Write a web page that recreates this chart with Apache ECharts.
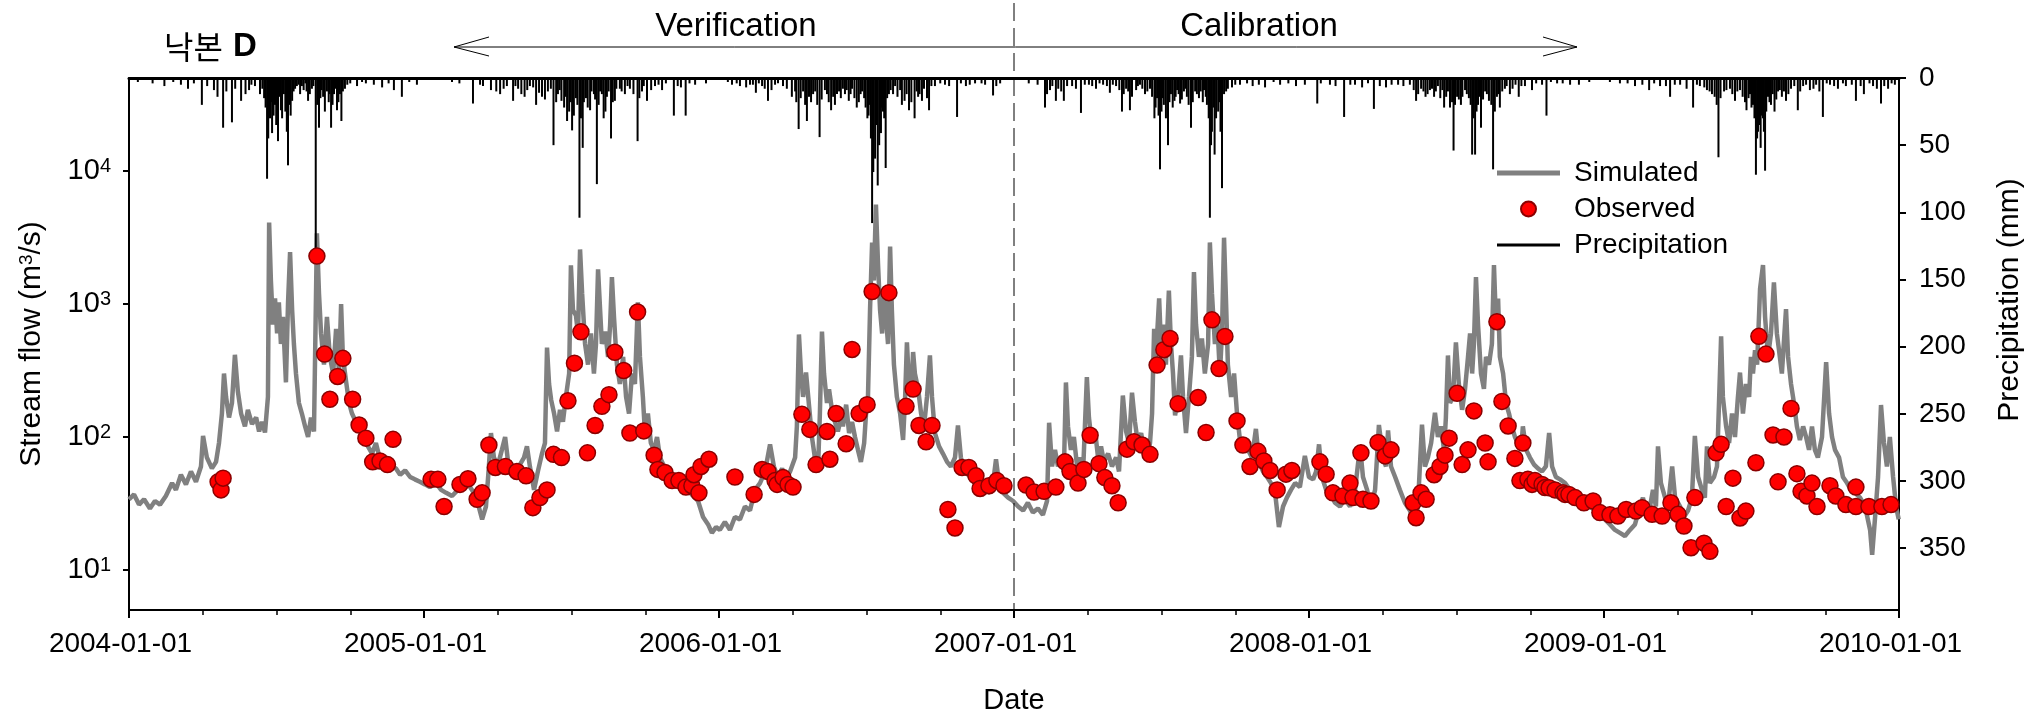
<!DOCTYPE html>
<html><head><meta charset="utf-8">
<script src="https://cdn.jsdelivr.net/npm/echarts@6/dist/echarts.min.js"></script>
<style>html,body{margin:0;padding:0;background:#fff}#c{width:2029px;height:723px}</style>
</head><body><div id="c"></div>
<script>
// ---- tick labels / axis ----
const xYears = [2004, 2005, 2006, 2007, 2008, 2009, 2010];
const flowTicks = [10, 100, 1000, 10000];
const precipTicks = [0, 50, 100, 150, 200, 250, 300, 350];

// ---- Simulated stream flow (m3/s): [fraction of year, value] ----
const sim2004 = [[0,34],[.017,37],[.034,31],[.051,34],[.071,29],[.088,33],[.105,31],[.125,36],[.146,45],[.159,40],[.176,52],[.193,44],[.210,55],[.227,46],[.244,60],[.251,102],[.264,70],[.281,58],[.295,65],[.305,90],[.315,150],[.322,300],[.329,200],[.339,140],[.349,180],[.359,415],[.369,220],[.380,150],[.393,120],[.403,160],[.417,125],[.431,140],[.441,110],[.451,130],[.461,108],[.471,200],[.475,4100],[.481,1500],[.488,700],[.495,1100],[.502,600],[.508,1030],[.515,500],[.522,800],[.532,257],[.539,1000],[.546,2450],[.553,900],[.559,500],[.566,300],[.576,180],[.586,150],[.597,120],[.607,100],[.617,140],[.627,110],[.637,3400],[.644,1200],[.651,600],[.661,350],[.671,800],[.681,400],[.692,300],[.702,650],[.712,300],[.719,1000],[.725,400],[.736,260],[.746,180],[.756,150],[.769,130],[.783,110],[.797,100],[.810,85],[.824,75],[.837,90],[.851,68],[.864,62],[.878,70],[.892,60],[.905,58],[.919,52],[.936,56],[.953,50],[.969,48],[.986,46]];
const sim2005 = [[.003,44],[.020,42],[.041,45],[.058,40],[.075,38],[.095,36],[.115,40],[.136,51],[.156,42],[.176,36],[.197,24],[.210,30],[.220,60],[.227,107],[.237,70],[.251,62],[.264,80],[.275,100],[.285,65],[.298,60],[.312,55],[.325,62],[.339,70],[.349,85],[.359,60],[.373,40],[.386,55],[.400,75],[.410,90],[.417,470],[.424,250],[.431,190],[.441,150],[.451,110],[.461,160],[.471,130],[.481,200],[.492,300],[.498,1950],[.505,900],[.515,820],[.522,600],[.529,2570],[.536,1200],[.546,500],[.556,350],[.566,600],[.576,300],[.583,500],[.590,1820],[.597,900],[.603,500],[.614,620],[.624,400],[.631,700],[.637,1590],[.644,800],[.654,350],[.664,250],[.675,400],[.685,200],[.695,150],[.705,300],[.715,250],[.725,1030],[.732,400],[.742,200],[.749,107],[.759,150],[.769,90],[.780,80],[.790,100],[.800,70],[.814,60],[.827,55],[.841,50],[.858,48],[.875,42],[.895,40],[.912,36],[.929,33],[.946,25],[.963,22],[.976,19],[.990,21]];
const sim2006 = [[.003,20],[.020,23],[.037,20],[.054,25],[.071,24],[.088,30],[.105,28],[.122,40],[.139,45],[.156,55],[.173,88],[.186,60],[.200,50],[.214,58],[.227,48],[.241,55],[.258,70],[.264,120],[.271,590],[.278,300],[.285,200],[.295,305],[.305,174],[.315,100],[.325,70],[.336,60],[.342,150],[.349,620],[.356,300],[.366,180],[.373,228],[.383,160],[.393,130],[.403,110],[.414,140],[.420,120],[.431,175],[.441,107],[.451,130],[.461,100],[.471,80],[.481,65],[.492,90],[.498,145],[.505,200],[.512,900],[.519,2900],[.525,1500],[.532,5600],[.539,2000],[.546,900],[.553,600],[.559,1200],[.566,800],[.573,500],[.580,2700],[.586,900],[.593,350],[.603,200],[.614,150],[.624,95],[.631,200],[.637,515],[.644,250],[.651,200],[.658,435],[.664,300],[.675,230],[.685,150],[.695,120],[.705,200],[.715,410],[.722,200],[.732,107],[.746,85],[.759,75],[.773,65],[.786,60],[.800,70],[.810,122],[.820,70],[.834,55],[.851,50],[.868,45],[.885,42],[.902,40],[.919,38],[.929,45],[.939,68],[.949,45],[.963,38],[.980,35],[.997,33]];
const sim2007 = [[.014,30],[.031,28],[.047,32],[.064,27],[.081,29],[.098,26],[.112,33],[.119,128],[.129,60],[.139,80],[.149,60],[.159,70],[.169,55],[.176,257],[.183,120],[.193,80],[.203,100],[.214,60],[.224,70],[.234,53],[.247,282],[.254,140],[.264,90],[.275,110],[.285,70],[.295,85],[.305,65],[.319,75],[.332,60],[.346,70],[.356,55],[.369,205],[.380,110],[.390,90],[.400,215],[.410,130],[.420,90],[.431,107],[.441,80],[.451,68],[.461,90],[.468,150],[.475,650],[.481,400],[.492,1100],[.498,500],[.508,700],[.515,350],[.525,1260],[.532,500],[.539,300],[.546,145],[.556,200],[.566,410],[.573,200],[.583,107],[.593,200],[.603,400],[.610,1740],[.617,700],[.627,400],[.637,550],[.647,300],[.658,500],[.664,2900],[.671,1200],[.681,500],[.688,800],[.698,300],[.705,600],[.712,3150],[.719,1000],[.725,350],[.736,200],[.746,300],[.756,150],[.766,95],[.780,95],[.793,80],[.807,70],[.820,115],[.831,65],[.844,55],[.858,50],[.871,45],[.885,38],[.898,21],[.912,30],[.925,35],[.939,40],[.953,45],[.969,42],[.986,72]];
const sim2008 = [[.000,50],[.014,48],[.024,55],[.034,88],[.044,50],[.058,40],[.071,38],[.088,32],[.105,30],[.122,34],[.139,30],[.156,40],[.173,85],[.183,50],[.197,40],[.210,30],[.224,40],[.237,123],[.251,70],[.261,60],[.268,112],[.278,60],[.292,50],[.308,40],[.325,32],[.342,28],[.356,23],[.369,30],[.383,124],[.393,60],[.403,70],[.414,90],[.427,152],[.437,100],[.447,120],[.458,80],[.464,140],[.471,410],[.478,180],[.488,200],[.498,515],[.508,250],[.519,160],[.529,230],[.539,400],[.546,600],[.553,300],[.559,500],[.566,1590],[.573,700],[.583,300],[.593,230],[.600,400],[.610,350],[.620,500],[.627,1960],[.634,700],[.641,1100],[.647,400],[.658,300],[.668,180],[.678,150],[.688,120],[.698,100],[.708,90],[.719,80],[.725,120],[.736,80],[.749,70],[.763,62],[.776,58],[.790,55],[.803,60],[.814,107],[.824,60],[.837,50],[.851,48],[.868,45],[.885,40],[.902,38],[.919,36],[.936,33],[.953,30],[.969,28],[.986,26]];
const sim2009 = [[.003,24],[.020,22],[.037,20],[.054,19],[.071,18],[.088,20],[.105,22],[.122,30],[.132,35],[.146,25],[.156,30],[.166,40],[.176,30],[.183,85],[.193,45],[.207,35],[.217,30],[.231,60],[.241,35],[.258,30],[.271,25],[.285,28],[.298,35],[.308,102],[.319,50],[.332,40],[.342,35],[.349,85],[.359,45],[.373,50],[.383,60],[.397,570],[.403,200],[.414,120],[.424,90],[.434,150],[.444,100],[.454,200],[.461,305],[.471,150],[.481,250],[.492,200],[.498,400],[.505,300],[.512,450],[.519,350],[.529,1300],[.539,1960],[.546,800],[.556,400],[.566,600],[.576,1450],[.586,600],[.593,455],[.603,300],[.617,915],[.624,400],[.634,250],[.644,180],[.654,120],[.664,95],[.675,120],[.685,100],[.695,80],[.705,120],[.715,80],[.725,70],[.739,100],[.753,365],[.763,150],[.773,100],[.783,80],[.797,70],[.810,50],[.824,45],[.837,40],[.851,38],[.868,35],[.885,30],[.902,20],[.909,13],[.919,25],[.929,50],[.939,174],[.949,90],[.959,60],[.969,100],[.980,50],[.990,30],[.999,24]];

// ---- Observed stream flow (m3/s) ----
const obs2004 = [[.302,46],[.312,40],[.319,49],[.637,2290],[.663,420],[.681,192],[.707,285],[.725,390],[.758,192],[.780,123],[.803,98],[.826,65],[.851,66],[.876,62],[.895,96]];
const obs2005 = [[.024,48],[.047,48],[.068,30],[.122,44],[.149,48.5],[.180,34],[.197,38],[.220,87],[.242,59],[.276,60],[.315,55],[.346,51],[.369,29.4],[.393,35],[.417,40],[.439,74],[.466,70],[.488,187],[.510,359],[.532,617],[.554,76],[.580,122],[.603,170],[.627,208],[.647,433],[.677,316],[.698,107],[.724,870],[.745,111],[.780,73],[.793,57],[.817,54],[.841,47],[.864,47],[.888,42],[.908,43],[.915,52],[.932,38],[.939,60],[.966,68]];
const obs2006 = [[.054,50],[.119,37],[.146,57],[.166,55],[.190,47],[.197,44],[.217,49.5],[.234,44],[.251,42],[.281,148],[.308,114],[.329,62],[.366,110],[.376,68],[.397,150],[.431,89],[.451,455],[.475,150],[.502,175],[.519,1240],[.576,1216],[.634,170],[.658,229],[.678,122],[.702,92],[.722,122],[.776,28.5],[.800,20.7],[.824,59],[.847,59],[.871,51],[.885,41],[.915,43],[.942,47],[.966,43]];
const obs2007 = [[.041,43.5],[.068,38.5],[.102,39],[.142,42],[.173,65],[.190,55],[.217,45],[.237,57],[.258,103],[.288,63],[.308,49.5],[.332,43],[.353,32],[.383,81],[.407,92],[.434,87],[.461,74],[.485,347],[.508,453],[.529,550],[.556,178],[.624,198],[.651,108],[.671,760],[.695,327],[.715,570],[.756,132],[.776,87],[.800,60],[.827,78],[.847,66],[.868,56],[.892,40],[.922,52.5],[.942,56]];
const obs2008 = [[.037,65],[.058,52.5],[.081,38],[.115,36],[.139,45],[.149,35],[.176,76],[.183,34],[.210,33],[.234,91],[.258,72],[.278,80],[.353,32],[.363,24.7],[.380,38],[.397,34],[.424,52],[.444,60],[.461,73],[.475,98],[.502,213],[.519,62],[.539,80],[.559,157],[.597,90],[.607,65],[.637,735],[.654,185],[.675,121],[.698,69],[.715,47],[.725,90],[.742,48],[.756,44],[.766,47],[.790,44],[.800,41.6],[.814,41.5],[.834,40],[.861,38],[.868,37],[.881,37],[.902,35],[.932,32],[.963,33],[.986,27]];
const obs2009 = [[.020,26],[.047,25.4],[.075,28.5],[.108,27.7],[.129,29.4],[.163,26.2],[.197,25.4],[.227,32],[.251,26.2],[.271,21.4],[.295,14.7],[.308,35],[.339,15.9],[.359,13.8],[.380,76],[.397,88],[.414,30],[.437,49],[.461,24.6],[.481,27.7],[.515,64],[.525,571],[.549,420],[.573,103.5],[.590,46],[.610,100],[.634,164],[.654,53],[.668,39],[.688,36],[.705,45],[.722,30],[.766,43],[.786,36],[.820,31],[.854,42],[.854,30],[.898,30],[.942,30],[.973,31]];

// ---- Precipitation (mm) ----
const prec2004 = [[.030,3],[.080,4],[.120,6],[.150,3],[.176,5],[.200,8],[.220,4],[.247,20],[.265,6],[.288,9],[.300,14],[.319,37],[.330,10],[.349,33],[.360,8],[.380,17],[.395,12],[.407,9],[.415,5],[.427,6],[.444,12],[.452,8],[.458,15],[.463,22],[.468,75],[.472,45],[.478,30],[.482,18],[.485,41],[.490,28],[.495,20],[.499,35],[.505,47],[.510,14],[.515,24],[.519,30],[.525,12],[.530,25],[.535,40],[.539,65],[.544,20],[.548,28],[.553,17],[.558,10],[.563,8],[.569,6],[.575,5],[.580,12],[.586,6],[.592,9],[.598,4],[.602,10],[.607,17],[.613,12],[.620,8],[.625,6],[.633,132],[.638,20],[.644,37],[.649,15],[.653,9],[.658,14],[.664,25],[.671,10],[.677,18],[.680,12],[.685,37],[.690,20],[.695,12],[.700,8],[.705,24],[.710,18],[.715,12],[.720,32],[.725,10],[.732,8],[.740,5],[.750,4],[.773,6],[.790,3],[.803,4],[.830,5],[.858,7],[.880,4],[.898,9],[.925,14],[.950,3],[.976,5]];
const prec2005 = [[.095,3],[.120,4],[.166,19],[.190,5],[.200,6],[.227,9],[.245,10],[.258,12],[.270,8],[.281,6],[.302,17],[.310,6],[.319,8],[.330,12],[.341,14],[.350,9],[.359,6],[.370,7],[.380,20],[.390,11],[.400,14],[.410,16],[.420,10],[.430,8],[.439,50],[.448,18],[.454,12],[.460,9],[.466,17],[.475,22],[.480,14],[.485,32],[.492,25],[.497,18],[.502,39],[.508,28],[.515,15],[.520,20],[.527,104],[.532,30],[.538,52],[.542,18],[.549,15],[.555,22],[.563,24],[.568,10],[.576,12],[.580,16],[.586,79],[.592,20],[.597,10],[.603,12],[.609,30],[.615,25],[.620,14],[.626,10],[.634,45],[.640,18],[.647,17],[.652,8],[.664,8],[.670,10],[.681,12],[.690,6],[.698,8],[.710,12],[.724,47],[.730,15],[.739,10],[.745,6],[.756,17],[.770,9],[.783,6],[.795,5],[.807,9],[.820,4],[.847,28],[.860,6],[.871,7],[.887,28],[.900,4],[.919,5],[.956,4]];
const prec2006 = [[.030,3],[.044,5],[.060,4],[.071,6],[.092,7],[.105,5],[.115,5],[.125,11],[.135,4],[.146,6],[.155,8],[.166,17],[.178,9],[.190,5],[.200,4],[.217,6],[.230,8],[.247,14],[.258,10],[.262,18],[.270,38],[.277,15],[.285,10],[.292,20],[.298,32],[.305,14],[.312,18],[.319,12],[.326,10],[.333,20],[.341,44],[.348,16],[.359,9],[.366,12],[.372,18],[.380,24],[.387,14],[.393,20],[.400,12],[.407,10],[.413,15],[.420,8],[.427,12],[.433,9],[.440,17],[.446,12],[.451,8],[.459,15],[.467,22],[.474,18],[.480,12],[.485,10],[.492,15],[.497,22],[.503,30],[.507,28],[.512,20],[.515,45],[.519,108],[.523,70],[.529,60],[.534,35],[.538,80],[.543,50],[.549,41],[.552,22],[.556,25],[.560,30],[.565,67],[.570,15],[.576,12],[.582,9],[.590,12],[.597,6],[.605,14],[.614,9],[.620,20],[.629,17],[.636,12],[.644,24],[.652,18],[.663,30],[.670,10],[.675,14],[.680,12],[.688,17],[.695,8],[.705,15],[.712,24],[.720,6],[.732,6],[.750,4],[.766,5],[.780,6],[.807,29],[.820,4],[.837,6],[.850,5],[.868,4],[.890,4],[.902,5],[.929,13],[.940,6],[.953,4]];
const prec2007 = [[.050,4],[.080,5],[.105,22],[.112,12],[.122,9],[.130,6],[.142,17],[.150,8],[.160,10],[.169,17],[.180,6],[.197,6],[.210,8],[.227,26],[.240,5],[.254,5],[.265,6],[.278,8],[.290,4],[.302,5],[.315,6],[.325,11],[.335,5],[.346,6],[.357,9],[.366,25],[.372,12],[.380,8],[.387,10],[.393,24],[.400,14],[.414,9],[.420,6],[.427,5],[.435,8],[.444,12],[.452,10],[.461,8],[.468,14],[.476,30],[.480,22],[.485,15],[.490,28],[.495,68],[.500,25],[.504,15],[.508,20],[.515,30],[.522,50],[.527,18],[.532,12],[.538,22],[.544,17],[.548,14],[.553,9],[.558,12],[.563,19],[.569,16],[.576,10],[.581,8],[.586,14],[.592,20],[.600,37],[.606,18],[.614,10],[.620,12],[.627,15],[.633,10],[.640,18],[.644,9],[.650,14],[.654,20],[.660,30],[.664,104],[.668,50],[.671,40],[.676,22],[.680,57],[.685,30],[.692,25],[.697,18],[.700,40],[.705,82],[.712,12],[.719,10],[.725,8],[.739,7],[.750,5],[.766,5],[.790,4],[.809,6],[.830,5],[.851,7],[.880,3],[.902,5],[.930,4],[.956,6],[.986,5]];
const prec2008 = [[.028,19],[.040,4],[.071,5],[.090,6],[.119,29],[.140,5],[.156,5],[.180,7],[.200,4],[.220,23],[.240,6],[.261,7],[.280,5],[.302,5],[.320,6],[.342,5],[.355,9],[.363,17],[.370,12],[.380,8],[.388,10],[.395,14],[.402,12],[.410,9],[.417,8],[.424,14],[.430,10],[.437,6],[.445,15],[.452,9],[.458,22],[.465,14],[.471,10],[.478,22],[.485,18],[.490,54],[.495,20],[.502,14],[.508,16],[.515,20],[.520,14],[.529,9],[.535,12],[.542,15],[.548,20],[.553,57],[.558,30],[.563,57],[.568,25],[.573,20],[.578,14],[.583,37],[.590,16],[.597,10],[.603,12],[.610,17],[.618,20],[.624,68],[.630,25],[.637,14],[.642,12],[.647,22],[.655,10],[.664,8],[.670,6],[.681,12],[.690,8],[.700,5],[.711,14],[.720,6],[.732,6],[.756,9],[.770,4],[.790,5],[.805,28],[.820,3],[.841,4],[.860,4],[.885,5],[.915,5],[.950,3]];
const prec2009 = [[.020,3],[.054,4],[.080,4],[.105,6],[.130,5],[.153,9],[.170,4],[.190,6],[.210,6],[.224,14],[.240,5],[.258,5],[.280,8],[.302,22],[.315,5],[.325,6],[.340,7],[.349,9],[.358,10],[.366,12],[.375,14],[.382,20],[.388,59],[.395,15],[.407,10],[.415,9],[.427,8],[.435,12],[.444,17],[.452,10],[.461,9],[.470,14],[.478,18],[.483,24],[.490,15],[.495,12],[.500,22],[.505,20],[.510,30],[.515,72],[.519,45],[.522,40],[.527,35],[.531,52],[.535,28],[.539,30],[.542,40],[.546,69],[.550,25],[.556,14],[.561,18],[.566,20],[.572,12],[.578,25],[.584,16],[.590,10],[.596,9],[.603,14],[.610,10],[.617,17],[.625,12],[.634,8],[.645,6],[.657,24],[.665,10],[.675,6],[.685,5],[.698,9],[.710,8],[.719,5],[.730,10],[.742,29],[.755,4],[.766,5],[.780,6],[.793,8],[.810,4],[.820,6],[.840,5],[.854,17],[.870,6],[.881,12],[.900,4],[.912,6],[.925,8],[.939,19],[.950,6],[.963,8],[.975,4],[.986,5]];

// ---- build series data (decimal year, value) ----
function build(groups) {
  const out = [];
  groups.forEach(([yr, arr]) => arr.forEach(([f, v]) => out.push([yr + f, v])));
  return out;
}
const simulated = build([[2004, sim2004], [2005, sim2005], [2006, sim2006], [2007, sim2007], [2008, sim2008], [2009, sim2009]]);
const observed = build([[2004, obs2004], [2005, obs2005], [2006, obs2006], [2007, obs2007], [2008, obs2008], [2009, obs2009]]);
const precipitation = build([[2004, prec2004], [2005, prec2005], [2006, prec2006], [2007, prec2007], [2008, prec2008], [2009, prec2009]]);

const FONT = "'Liberation Sans', Arial, Helvetica, sans-serif";
const chart = echarts.init(document.getElementById('c'), null, { renderer: 'canvas' });

chart.setOption({
  animation: false,
  backgroundColor: '#fff',
  grid: { left: 129, right: 130, top: 78, bottom: 113 },
  xAxis: [{
    type: 'value', min: xYears[0], max: xYears[xYears.length - 1], interval: 1,
    name: 'Date', nameLocation: 'middle', nameGap: 76,
    nameTextStyle: { fontFamily: FONT, fontSize: 29, color: '#000' },
    axisLine: { show: true, onZero: false, lineStyle: { color: '#000', width: 2 } },
    axisTick: { show: true, length: 8, lineStyle: { color: '#000', width: 2 } },
    minorTick: { show: true, splitNumber: 4, length: 5, lineStyle: { color: '#000', width: 1.5 } },
    axisLabel: { formatter: v => Math.round(v) + '-01-01', fontFamily: FONT, fontSize: 28, color: '#000', margin: 20,
      padding: [0, 17, 0, 0] },
    splitLine: { show: false }
  }, {
    type: 'value', position: 'top', min: xYears[0], max: xYears[xYears.length - 1],
    axisLine: { show: true, onZero: false, lineStyle: { color: '#000', width: 3 } },
    axisTick: { show: false }, axisLabel: { show: false }, splitLine: { show: false }
  }],
  yAxis: [{
    type: 'log', logBase: 10, min: 5, max: 50000, position: 'left',
    name: 'Stream flow (m{sup|3}/s)', nameLocation: 'middle', nameGap: 82, nameRotate: 90,
    nameTextStyle: { fontFamily: FONT, fontSize: 30, color: '#000',
      rich: { sup: { fontFamily: FONT, fontSize: 19, color: '#000', verticalAlign: 'top' } } },
    axisLine: { show: true, onZero: false, lineStyle: { color: '#000', width: 2 } },
    axisTick: { show: true, length: 6, customValues: flowTicks, lineStyle: { color: '#000', width: 2 } },
    axisLabel: {
      customValues: flowTicks,
      formatter: v => {
        const l = Math.log10(v), e = Math.round(l);
        return Math.abs(l - e) > 1e-6 ? '' : '10{sup|' + e + '}';
      },
      fontFamily: FONT, fontSize: 29, color: '#000', margin: 18,
      rich: { sup: { fontFamily: FONT, fontSize: 20, color: '#000', verticalAlign: 'top' } }
    },
    splitLine: { show: false }, minorTick: { show: false }
  }, {
    type: 'value', inverse: true, min: precipTicks[0], max: 396, interval: 50, position: 'right',
    axisLine: { show: true, onZero: false, lineStyle: { color: '#000', width: 2 } },
    axisTick: { show: true, length: 7, lineStyle: { color: '#000', width: 2 } },
    axisLabel: { fontFamily: FONT, fontSize: 28, color: '#000', margin: 20, showMaxLabel: false },
    splitLine: { show: false }
  }],
  legend: {
    orient: 'vertical', left: 1492, top: 154, itemWidth: 63, itemHeight: 15, itemGap: 8,
    selectedMode: false, symbolKeepAspect: true,
    textStyle: { fontFamily: FONT, fontSize: 28, color: '#000', padding: [0, 0, 0, 9] },
    data: [
      { name: 'Simulated', icon: 'path://M0,0L63,0L63,5L0,5Z' },
      { name: 'Observed' },
      { name: 'Precipitation', icon: 'path://M0,0L63,0L63,3L0,3Z' }
    ]
  },
  series: [
    { name: 'Simulated', type: 'line', xAxisIndex: 0, yAxisIndex: 0, data: simulated, symbol: 'none',
      lineStyle: { color: '#808080', width: 4.5 }, itemStyle: { color: '#808080' }, z: 2 },
    { name: 'Precipitation', type: 'bar', xAxisIndex: 0, yAxisIndex: 1, data: precipitation, barWidth: 2,
      itemStyle: { color: '#000' }, z: 3 },
    { name: 'Observed', type: 'scatter', xAxisIndex: 0, yAxisIndex: 0, data: observed, symbol: 'circle', symbolSize: 16,
      itemStyle: { color: '#ff0000', borderColor: '#8b0000', borderWidth: 1.5, opacity: 1 }, z: 4 }
  ]
});

// annotations: dashed split at 2007-01-01 and period arrows
const splitX = chart.convertToPixel({ xAxisIndex: 0 }, 2007);
const plotBottom = chart.convertToPixel({ yAxisIndex: 0 }, 5);
chart.setOption({
  graphic: [
    { type: 'line', shape: { x1: splitX, y1: 3, x2: splitX, y2: plotBottom },
      style: { stroke: '#000', lineWidth: 1, lineDash: [18, 7] }, z: 10 },
    { type: 'line', shape: { x1: 454, y1: 47, x2: 1577, y2: 47 }, style: { stroke: '#000', lineWidth: 1 }, z: 10 },
    { type: 'polyline', shape: { points: [[489, 37], [454, 47], [489, 56]] }, style: { stroke: '#000', lineWidth: 1, fill: null }, z: 10 },
    { type: 'polyline', shape: { points: [[1543, 37], [1577, 47], [1543, 56]] }, style: { stroke: '#000', lineWidth: 1, fill: null }, z: 10 },
    { type: 'text', x: 736, y: 27, style: { text: 'Verification', fontFamily: FONT, fontSize: 33, fill: '#000', align: 'center', verticalAlign: 'middle' }, z: 10 },
    { type: 'text', x: 1259, y: 27, style: { text: 'Calibration', fontFamily: FONT, fontSize: 33, fill: '#000', align: 'center', verticalAlign: 'middle' }, z: 10 },
    { type: 'text', x: 164, y: 47, style: {
        text: '{k|낙본}{d|D}', fill: '#000', verticalAlign: 'middle',
        rich: { k: { fontFamily: "'Noto Sans CJK KR', sans-serif", fontSize: 32, fill: '#000' },
                d: { fontFamily: FONT, fontSize: 33, fontWeight: 'bold', fill: '#000', padding: [0, 0, 0, 10] } } }, z: 10 },
    { type: 'text', x: 2010, y: 300, rotation: Math.PI / 2, style: {
        text: 'Precipitation (mm)', fontFamily: FONT, fontSize: 30, fill: '#000', align: 'center', verticalAlign: 'middle' }, z: 10 }
  ]
});
</script>
</body></html>
